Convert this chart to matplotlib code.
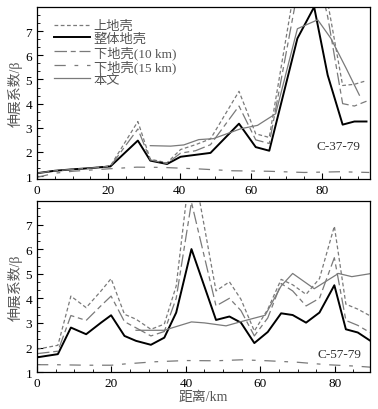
import matplotlib
matplotlib.use('Agg')
import matplotlib.pyplot as plt
from matplotlib.ticker import MultipleLocator, FixedLocator

plt.rcParams['font.family'] = ['Liberation Serif', 'Noto Sans CJK SC']
plt.rcParams['axes.unicode_minus'] = False

labels = ['上地壳', '整体地壳', '下地壳(10 km)', '下地壳(15 km)', '本文']

# profile C-37-79
x_top = [0, 5, 10, 15, 20.6, 28.3, 31.8, 36.5, 40.3, 44.5, 48.7, 56.7, 61.4,
         65.2, 73.1, 77.8, 81.6, 85.8, 89.1, 92.5]
upper_top = [1.12, 1.22, 1.28, 1.33, 1.42, 3.26, 1.7, 1.55, 2.1, 2.3, 2.54, 4.51,
             2.75, 2.6, 9.5, 11.5, 8.2, 4.75, 4.8, 4.95]
whole_top = [1.12, 1.22, 1.28, 1.33, 1.40, 2.47, 1.64, 1.5, 1.8, 1.88, 1.96, 3.17,
             2.2, 2.05, 6.7, 8.0, 5.18, 3.13, 3.26, 3.26]
lower10_top = [1.12, 1.22, 1.28, 1.33, 1.41, 2.95, 1.67, 1.52, 1.95, 2.05, 2.3, 3.9,
               2.5, 2.35, 8.6, 10.0, 7.6, 4.0, 3.9, 4.1]
x15_top = [0, 5, 10, 20, 28, 35, 45, 50, 55, 65, 75, 85, 93.3]
lower15_top = [0.95, 1.12, 1.2, 1.3, 1.37, 1.36, 1.3, 1.26, 1.22, 1.2, 1.15, 1.18, 1.15]
xb_top = [31.8, 37.5, 41.2, 45.4, 49.5, 57.2, 61.9, 67, 73.1, 78.8, 82.5, 86.8, 90.5]
paper_top = [2.26, 2.24, 2.29, 2.51, 2.55, 2.96, 3.1, 3.58, 7.1, 7.47, 6.7, 5.46, 4.35]

# profile C-57-79
x_bot = [0, 5.6, 9.1, 13.2, 17.2, 19.9, 23.5, 26.6, 30.6, 34.2, 37.4, 41.5, 48.1,
         51.7, 54.8, 58.4, 62, 65.6, 68.7, 72.3, 75.9, 79.9, 83, 86.2, 89.6]
upper_bot = [1.93, 2.09, 4.09, 3.62, 4.3, 4.8, 3.35, 3.15, 2.74, 2.95, 4.5, 9.8, 4.3,
             4.67, 3.96, 2.67, 3.55, 4.77, 4.55, 4.16, 4.8, 6.93, 3.76, 3.56, 3.28]
whole_bot = [1.6, 1.73, 2.81, 2.54, 3.01, 3.31, 2.47, 2.27, 2.11, 2.4, 3.42, 6.0, 3.12,
             3.26, 3.01, 2.18, 2.63, 3.39, 3.32, 3.01, 3.42, 4.53, 2.74, 2.61, 2.27]
lower10_bot = [1.75, 1.85, 3.3, 3.1, 3.7, 4.09, 3.05, 2.8, 2.47, 2.65, 4.0, 7.9, 3.69,
               4.0, 3.5, 2.47, 3.2, 4.6, 4.3, 3.69, 4.0, 5.65, 3.1, 2.9, 2.6]
x15_bot = [0, 5, 13.2, 20, 23.5, 31.7, 40, 48, 55, 62, 70, 78, 86, 89.6]
lower15_bot = [1.3, 1.3, 1.28, 1.28, 1.33, 1.42, 1.47, 1.46, 1.5, 1.46, 1.4, 1.3, 1.24, 1.2]
xb_bot = [26.6, 30.6, 34.2, 37.4, 41.5, 45, 50.8, 54.8, 61.3, 65.6, 68.7, 74.5, 81, 84.6, 89.5]
paper_bot = [2.7, 2.7, 2.7, 2.85, 3.04, 3.0, 2.88, 3.05, 3.31, 4.5, 5.01, 4.39, 5.01, 4.88, 5.0]

y_ticks = [1, 2, 3, 4, 5, 6, 7]

gray = '#7a7a7a'
txtgray = '#555555'

fig = plt.figure(figsize=(3.78, 4.10), dpi=100)
ax1 = fig.add_axes([0.098, 0.561, 0.881, 0.4195])
ax2 = fig.add_axes([0.098, 0.090, 0.881, 0.417])


def draw(ax, x, up, wh, lo10, x15, lo15, xb, pb):
    ax.plot(x, up, color=gray, lw=0.9, ls=(0, (3, 2)), label=labels[0])
    ax.plot(x, wh, color='black', lw=1.4, label=labels[1])
    ax.plot(x, lo10, color=gray, lw=0.9, ls=(0, (10, 3, 4, 3)), label=labels[2])
    ax.plot(x15, lo15, color=gray, lw=0.9, ls=(0, (9, 7, 3, 7)), label=labels[3])
    ax.plot(xb, pb, color=gray, lw=0.9, label=labels[4])
    ax.xaxis.set_major_locator(MultipleLocator(20))
    ax.xaxis.set_minor_locator(MultipleLocator(5))
    ax.yaxis.set_major_locator(FixedLocator(y_ticks))
    ax.yaxis.set_minor_locator(MultipleLocator(1 / 3))
    ax.tick_params(which='both', direction='in', top=False, right=False,
                   labelsize=9.5)
    ax.tick_params(which='major', length=4)
    ax.tick_params(which='minor', length=2.5)
    for s in ax.spines.values():
        s.set_linewidth(0.9)
    ax.set_ylabel('伸展系数/β', color=txtgray, fontsize=10, labelpad=2)


draw(ax1, x_top, upper_top, whole_top, lower10_top, x15_top, lower15_top,
     xb_top, paper_top)
draw(ax2, x_bot, upper_bot, whole_bot, lower10_bot, x15_bot, lower15_bot,
     xb_bot, paper_bot)

ax1.set_xlim(0, 93.5)
ax1.set_ylim(0.88, 8.0)
ax2.set_xlim(0, 89.5)
ax2.set_ylim(1.0, 7.95)

ax1.text(84.5, 2.25, 'C-37-79', ha='center', va='center', fontsize=9.5, color='#333333')
ax2.text(81.2, 1.73, 'C-57-79', ha='center', va='center', fontsize=9.5, color='#333333')

leg = ax1.legend(loc='upper left', bbox_to_anchor=(0.035, 0.955), frameon=False,
                 fontsize=9.5, handlelength=2.7, handletextpad=0.3,
                 labelspacing=0.02, borderaxespad=0)
for t in leg.get_texts():
    t.set_color(txtgray)

ax2.set_xlabel('距离/km', color=txtgray, fontsize=10, labelpad=1)

fig.savefig('out.png', dpi=100)
